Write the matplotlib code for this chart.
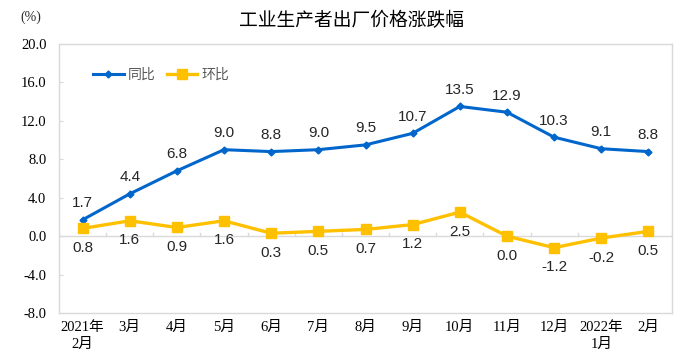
import matplotlib
matplotlib.use("Agg")
import matplotlib.pyplot as plt
import numpy as np

categories = ["2021年\n2月", "3月", "4月", "5月", "6月", "7月", "8月", "9月",
              "10月", "11月", "12月", "2022年\n1月", "2月"]
yoy = [1.7, 4.4, 6.8, 9.0, 8.8, 9.0, 9.5, 10.7, 13.5, 12.9, 10.3, 9.1, 8.8]
mom = [0.8, 1.6, 0.9, 1.6, 0.3, 0.5, 0.7, 1.2, 2.5, 0.0, -1.2, -0.2, 0.5]
yoy_name = "同比"
mom_name = "环比"
title = "工业生产者出厂价格涨跌幅"
yticks = [-8, -4, 0, 4, 8, 12, 16, 20]

serif = ["Liberation Serif", "Noto Sans CJK SC"]
sans = ["Liberation Sans", "Noto Sans CJK SC"]
cjk = ["Noto Sans CJK SC", "DejaVu Sans"]

fig = plt.figure(figsize=(6.81, 3.63), dpi=100)
ax = fig.add_axes([59/681, 1-313/363, (672-59)/681, (313-44)/363])

x = np.arange(len(categories))
blue = "#0066CC"
yellow = "#FFC000"
grid_c = "#D9D9D9"

ax.axhline(0, color=grid_c, lw=1, zorder=1)
for b in np.arange(len(categories) + 1) - 0.5:
    ax.plot([b, b], [0, 0.35], color=grid_c, lw=1, zorder=1)

ax.plot(x, yoy, color=blue, lw=2.2, marker="D", ms=3.5, label=yoy_name, zorder=3)
ax.plot(x, mom, color=yellow, lw=2.4, marker="s", ms=6.5, label=mom_name, zorder=3)

for xi, v in zip(x, yoy):
    ax.annotate(f"{v:.1f}", (xi, v), xytext=(0, 12), textcoords="offset points",
                ha="center", va="center", fontsize=11, color="#262626", family=sans)
for xi, v in zip(x, mom):
    ax.annotate(f"{v:.1f}", (xi, v), xytext=(0, -14), textcoords="offset points",
                ha="center", va="center", fontsize=11, color="#262626", family=sans)

ax.set_xlim(-0.5, len(categories) - 0.5)
ax.set_ylim(-8, 20)
ax.set_yticks(yticks)
ax.set_yticklabels([f"{t:.1f}" for t in yticks], family=serif, fontsize=10.5)
ax.set_xticks(x)
ax.set_xticklabels(categories, family=serif, fontsize=10.5, linespacing=1.35)
ax.tick_params(axis="x", length=0, pad=6)
ax.tick_params(axis="y", direction="in", length=3, color=grid_c, pad=9)
for s in ax.spines.values():
    s.set_color(grid_c)
    s.set_linewidth(1)

leg = ax.legend(loc="center left", bbox_to_anchor=(0.035, 1-31/269), ncol=2, frameon=False,
                prop={"family": cjk, "size": 10}, handlelength=2.2, columnspacing=0.8,
                handletextpad=0.3)
for t in leg.get_texts():
    t.set_color("#595959")

fig.text(351/681, 1-21/363, title, ha="center", va="center", fontsize=13.5,
         family=cjk, color="black")
fig.text(31/681, 1-17/363, "(%)", ha="center", va="center", fontsize=10,
         family=serif, color="#262626")

fig.savefig("out.png", dpi=100)
